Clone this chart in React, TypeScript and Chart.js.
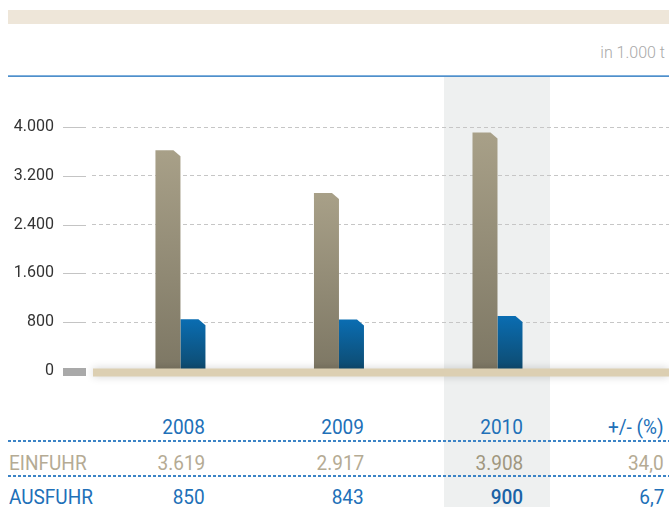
import React, { useEffect, useRef } from 'react';
import { Chart, registerables } from 'chart.js';

Chart.register(...registerables);

const years = ['2008', '2009', '2010'];
const einfuhr = [3619, 2917, 3908];
const ausfuhr = [850, 843, 900];
const changeHeader = '+/- (%)';
const einfuhrChange = '34,0';
const ausfuhrChange = '6,7';
const rowLabels = ['EINFUHR', 'AUSFUHR'];
const unitLabel = 'in 1.000 t';
const yMin = 0;
const yMax = 4000;
const yStep = 800;

const fmt = (v: number) => String(v).replace(/\B(?=(\d{3})+(?!\d))/g, '.');

const barPlugin = {
  id: 'customBars',
  beforeDatasetDraw(chart: any, args: any) {
    const { ctx } = chart;
    const ds = chart.data.datasets[args.index] as any;
    args.meta.data.forEach((el: any) => {
      const { x, y, base, width } = el.getProps(['x', 'y', 'base', 'width'], true);
      const l = x - width / 2;
      const r = x + width / 2;
      const g = ctx.createLinearGradient(0, y, 0, base);
      g.addColorStop(0, ds.topColor);
      g.addColorStop(1, ds.bottomColor);
      ctx.save();
      ctx.beginPath();
      ctx.moveTo(l, base);
      ctx.lineTo(l, y);
      ctx.lineTo(r - 7, y);
      ctx.lineTo(r, y + 6);
      ctx.lineTo(r, base);
      ctx.closePath();
      ctx.fillStyle = g;
      ctx.fill();
      ctx.restore();
    });
    return false;
  },
  afterDatasetsDraw(chart: any) {
    const ys = chart.scales.y;
    const ctx = chart.ctx;
    const left = chart.chartArea.left;
    const z = ys.getPixelForValue(0);
    ctx.save();
    ctx.strokeStyle = '#c4c4c4';
    ctx.lineWidth = 1;
    ys.ticks.forEach((t: any) => {
      if (t.value === 0) return;
      const py = Math.round(ys.getPixelForValue(t.value)) + 0.5;
      ctx.beginPath();
      ctx.moveTo(left - 29, py);
      ctx.lineTo(left - 6, py);
      ctx.stroke();
    });
    ctx.fillStyle = '#a9a9a9';
    ctx.fillRect(left - 29, z - 3, 23, 8);
    ctx.shadowColor = 'rgba(0,0,0,0.18)';
    ctx.shadowBlur = 8;
    ctx.fillStyle = '#dccfb2';
    ctx.fillRect(left + 1, z - 2.5, chart.chartArea.right - left - 1, 8);
    ctx.restore();
  },
};

function ChartCanvas() {
  const ref = useRef<HTMLCanvasElement>(null);
  useEffect(() => {
    if (!ref.current) return;
    const chart = new Chart(ref.current, {
      type: 'bar',
      data: {
        datasets: [
          {
            label: rowLabels[0],
            data: years.map((_, i) => ({ x: i, y: einfuhr[i] })),
            backgroundColor: '#958e78',
            topColor: '#a8a088',
            bottomColor: '#7d7764',
            barThickness: 25,
          } as any,
          {
            label: rowLabels[1],
            data: years.map((_, i) => ({ x: i, y: ausfuhr[i] })),
            backgroundColor: '#0b5c92',
            topColor: '#0a6db2',
            bottomColor: '#0e4a6e',
            barThickness: 25,
          } as any,
        ],
      },
      options: {
        animation: false,
        responsive: false,
        layout: { padding: { top: 127, bottom: 29, left: 0, right: 0 } },
        plugins: { legend: { display: false }, tooltip: { enabled: false } },
        scales: {
          x: { type: 'linear', display: false, offset: false, min: -0.558, max: 3.082 },
          y: {
            min: yMin,
            max: yMax,
            afterFit: (s: any) => {
              s.width = 92;
            },
            border: { display: false, dash: [4, 3] },
            grid: {
              drawTicks: true,
              tickLength: 38,
              tickColor: 'transparent',
              color: (c: any) => (c.tick && c.tick.value === 0 ? 'transparent' : '#c6c6c6'),
              lineWidth: 1,
            },
            ticks: {
              stepSize: yStep,
              padding: 0,
              color: '#333333',
              font: { family: 'Roboto', size: 16, weight: 'normal' },
              callback: (v: any) => fmt(Number(v)),
            },
          },
        },
      },
      plugins: [barPlugin],
    });
    return () => chart.destroy();
  }, []);
  return (
    <canvas
      ref={ref}
      width={669}
      height={400}
      style={{ position: 'absolute', left: 0, top: 0, width: 669, height: 400 }}
    />
  );
}

const colRight = [205, 364, 523, 664];
const font = 'Roboto, "Open Sans", sans-serif';

function Cell({ text, right, left, top, color, weight = 400 }: any) {
  const pos: any =
    right !== undefined
      ? { right: 669 - right, transformOrigin: 'right center' }
      : { left, transformOrigin: 'left center' };
  return (
    <div
      style={{
        position: 'absolute',
        ...pos,
        top,
        fontSize: 20,
        lineHeight: '20px',
        fontWeight: weight,
        transform: 'scaleX(0.95)',
        color,
        whiteSpace: 'nowrap',
        fontFamily: font,
      }}
    >
      {text}
    </div>
  );
}

function Dashed({ top }: { top: number }) {
  return (
    <div
      style={{
        position: 'absolute',
        left: 8,
        top,
        width: 661,
        height: 2,
        background: 'repeating-linear-gradient(to right, #3c84c6 0 3px, transparent 3px 5px)',
      }}
    />
  );
}

export default function App() {
  const blue = '#2170b8';
  const tan = '#b5ab94';
  return (
    <div
      style={{
        position: 'fixed',
        left: 0,
        top: 0,
        width: 669,
        height: 507,
        overflow: 'hidden',
        background: '#fff',
        fontFamily: font,
      }}
    >
      <div style={{ position: 'absolute', left: 8, top: 10, width: 661, height: 14, background: '#eee6d9' }} />
      <div
        style={{
          position: 'absolute',
          right: 4,
          top: 45,
          fontSize: 16,
          lineHeight: '16px',
          fontWeight: 300,
          color: '#a8a8a8',
        }}
      >
        {unitLabel}
      </div>
      <div style={{ position: 'absolute', left: 8, top: 75, width: 661, height: 1, background: '#7fb0dd' }} />
      <div style={{ position: 'absolute', left: 8, top: 76, width: 661, height: 1, background: '#4f8fca' }} />
      <div style={{ position: 'absolute', left: 444, top: 77, width: 106, height: 430, background: '#eef0f0' }} />
      <ChartCanvas />
      {years.map((y, i) => (
        <Cell key={'h' + y} text={y} right={colRight[i]} top={417} color={blue} />
      ))}
      <Cell text={changeHeader} right={colRight[3]} top={417} color={blue} />
      <Dashed top={440} />
      <Cell text={rowLabels[0]} left={9} top={453} color={tan} />
      {einfuhr.map((v, i) => (
        <Cell key={'e' + i} text={fmt(v)} right={colRight[i]} top={453} color={i === 2 ? '#a0977f' : tan} />
      ))}
      <Cell text={einfuhrChange} right={colRight[3]} top={453} color={tan} />
      <Dashed top={475} />
      <Cell text={rowLabels[1]} left={9} top={487} color={blue} />
      {ausfuhr.map((v, i) => (
        <Cell key={'a' + i} text={fmt(v)} right={colRight[i]} top={487} color={i === 2 ? '#1a62a6' : blue} weight={i === 2 ? 500 : 400} />
      ))}
      <Cell text={ausfuhrChange} right={colRight[3]} top={487} color={blue} />
    </div>
  );
}
